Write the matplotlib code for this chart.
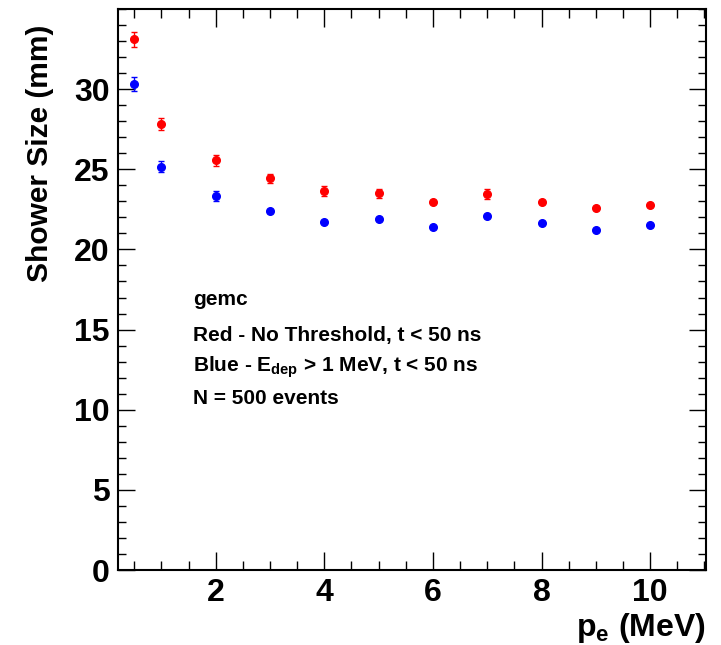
import matplotlib
matplotlib.use("Agg")
import matplotlib.pyplot as plt
from matplotlib.ticker import MultipleLocator

plt.rcParams['font.family'] = ['Liberation Sans', 'DejaVu Sans']
plt.rcParams['mathtext.fontset'] = 'custom'
plt.rcParams['mathtext.rm'] = 'Liberation Sans:bold'
plt.rcParams['mathtext.it'] = 'Liberation Sans:bold'
plt.rcParams['mathtext.bf'] = 'Liberation Sans:bold'

# Data
momentum = [0.5, 1, 2, 3, 4, 5, 6, 7, 8, 9, 10]
red_size = [33.1, 27.8, 25.57, 24.43, 23.63, 23.5, 22.96, 23.47, 22.96, 22.56, 22.75]
red_err = [0.47, 0.38, 0.35, 0.3, 0.3, 0.3, 0.12, 0.3, 0.12, 0.12, 0.12]
blue_size = [30.3, 25.15, 23.32, 22.39, 21.74, 21.92, 21.37, 22.06, 21.66, 21.24, 21.53]
blue_err = [0.43, 0.35, 0.3, 0.12, 0.12, 0.12, 0.12, 0.12, 0.12, 0.12, 0.12]

x_ticks = [2, 4, 6, 8, 10]
y_ticks = [0, 5, 10, 15, 20, 25, 30]

fig = plt.figure(figsize=(7.21, 6.45), dpi=100)
ax = fig.add_axes([118/721, 1-570/645, (705.5-118)/721, (570-9)/645])

ax.errorbar(momentum, red_size, yerr=red_err, fmt='o', color='#ff0000',
            ms=5.5, capsize=2.5, elinewidth=1, capthick=1)
ax.errorbar(momentum, blue_size, yerr=blue_err, fmt='o', color='#0000ff',
            ms=5.5, capsize=2.5, elinewidth=1, capthick=1)

ax.set_xlim(0.2, 11.02)
ax.set_ylim(0, 35)
ax.set_xticks(x_ticks)
ax.set_yticks(y_ticks)
ax.xaxis.set_minor_locator(MultipleLocator(0.5))
ax.yaxis.set_minor_locator(MultipleLocator(1))

ax.tick_params(which='both', direction='in', top=True, right=True,
               labelsize=23, width=1, color='black')
ax.tick_params(axis='x', which='major', length=13, pad=6)
ax.tick_params(axis='x', which='minor', length=6.5)
ax.tick_params(axis='y', which='major', length=12, pad=6)
ax.tick_params(axis='y', which='minor', length=6)
for lbl in ax.get_xticklabels() + ax.get_yticklabels():
    lbl.set_fontweight('bold')
for s in ax.spines.values():
    s.set_linewidth(1.5)

ax.set_ylabel('Shower Size (mm)', fontsize=21.5, fontweight='bold')
ax.yaxis.set_label_coords(-0.132, (570-25)/561)
ax.yaxis.label.set_ha('right')
ax.yaxis.label.set_va('center')

fig.text(705.5/721, 1-636/645, r'p$_{\mathregular{e}}$ (MeV)', ha='right', va='baseline',
         fontsize=23, fontweight='bold')

lines = ['gemc', 'Red - No Threshold, t < 50 ns',
         r'Blue - E$_{\mathregular{dep}}$ > 1 MeV, t < 50 ns', 'N = 500 events']
ys = [300, 336, 367, 399]
for t, yy in zip(lines, ys):
    fig.text(193/721, 1-yy/645, t, ha='left', va='center', fontsize=15, fontweight='bold')

fig.savefig('out.png', dpi=100)
